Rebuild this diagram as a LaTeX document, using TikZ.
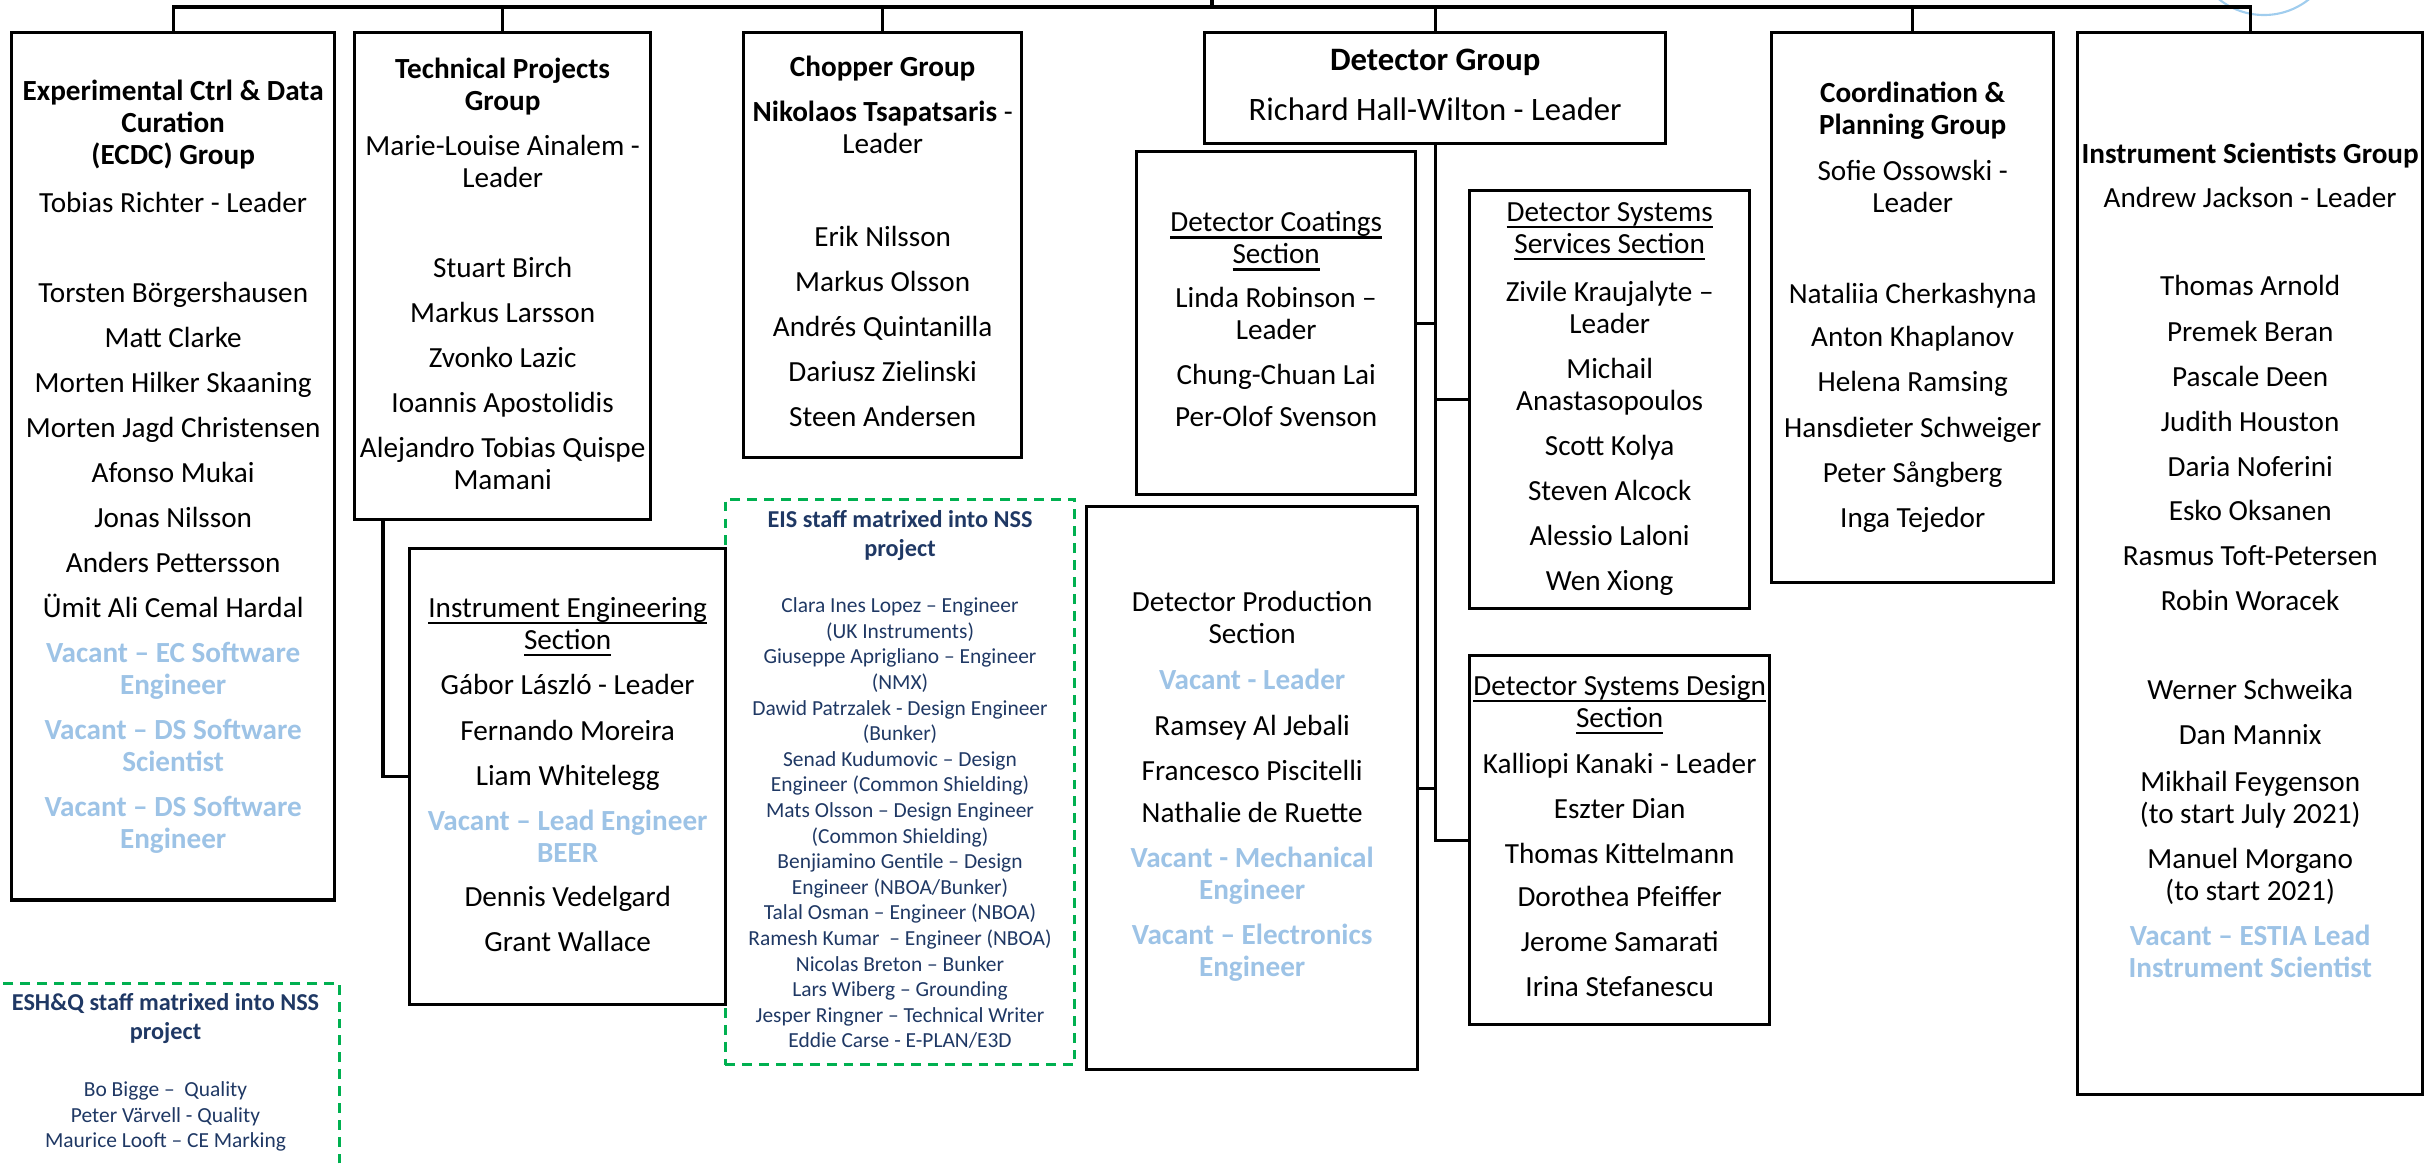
\documentclass[tikz,border=0pt]{standalone}
\usepackage{fontspec}
\setmainfont{Carlito}
\usepackage{xcolor}
\usepackage{tikz}
\usetikzlibrary{calc}
\definecolor{vacant}{RGB}{157,195,230}
\definecolor{navy}{RGB}{31,56,100}
\definecolor{matgreen}{RGB}{0,176,80}
\definecolor{logo}{RGB}{160,205,238}
\newcommand{\vac}[1]{\textcolor{vacant}{\bfseries #1}}
\newsavebox{\secbox}
\newcommand{\secname}[1]{\sbox{\secbox}{#1}\rlap{\rule[-0.7mm]{\wd\secbox}{0.25mm}}\usebox{\secbox}}

\begin{document}
\begin{tikzpicture}[x=0.01cm,y=-0.01cm,
groupbox/.style={draw,line width=0.9pt,inner sep=0pt,anchor=north west},
matbox/.style={draw=matgreen,line width=0.8pt,dash pattern=on 2.8pt off 2pt,inner sep=0pt,anchor=north west},
staff/.style={align=center,anchor=north,inner sep=0pt,execute at begin node=\strut,font=\fontsize{8.3}{9.1}\selectfont},
mattitle/.style={staff,text=navy,font=\fontsize{6.9}{8.2}\selectfont\bfseries},
matlist/.style={staff,text=navy,font=\fontsize{6.1}{7.28}\selectfont},
link/.style={line width=0.9pt}]
\path[use as bounding box,clip](0,0)rectangle(2432,1168);
\draw[logo,line width=0.6pt](2264,-57)circle[radius=0.72cm];

% matrixed staff
\node[matbox,minimum width=3.49cm,minimum height=5.65cm](eis)at(724,498){};
\node[matbox,minimum width=3.48cm,minimum height=2.2cm](esh)at(-10,982){};

% groups and sections
\node[groupbox,minimum width=3.23cm,minimum height=8.67cm](ecdc)at(10,31){};
\node[groupbox,minimum width=2.96cm,minimum height=4.87cm](tp)at(353,31){};
\node[groupbox,minimum width=2.78cm,minimum height=4.25cm](chop)at(742,31){};
\node[groupbox,minimum width=4.61cm,minimum height=1.11cm](det)at(1203,31){};
\node[groupbox,minimum width=2.82cm,minimum height=5.5cm](coord)at(1770,31){};
\node[groupbox,minimum width=3.45cm,minimum height=10.61cm](inst)at(2076,31){};
\node[groupbox,minimum width=3.16cm,minimum height=4.56cm](ieng)at(408,547){};
\node[groupbox,minimum width=2.79cm,minimum height=3.43cm](coat)at(1135,150){};
\node[groupbox,minimum width=2.8cm,minimum height=4.18cm](serv)at(1468,189){};
\node[groupbox,minimum width=3.31cm,minimum height=5.63cm](prod)at(1085,505){};
\node[groupbox,minimum width=3cm,minimum height=3.69cm](dsd)at(1468,654){};

% connectors
\coordinate(top)at(1212,-5);
\coordinate(bus)at(1212,7);
\draw[link](top)--(bus);
\foreach \g in {ecdc,tp,chop,det,coord,inst}
  \draw[link](\g.north)|-(bus);
\draw[link](tp.south west)++(30,0)|-(ieng.west);
\draw[link](det.south)|-(dsd.west);
\draw[link](coat.east)--(coat.east-|det.south);
\draw[link](serv.west)--(serv.west-|det.south);
\draw[link](prod.east)--(prod.east-|det.south);

% texts
\node[staff](ecdc-names)at([yshift=-0.486cm]ecdc.north){\textbf{Experimental Ctrl \& Data}\\
\textbf{Curation}\\
\textbf{(ECDC) Group}\\[1.6mm]
Tobias Richter - Leader\\[5.8mm]
Torsten Börgershausen\\[1.3mm]
Matt Clarke\\[1.3mm]
Morten Hilker Skaaning\\[1.3mm]
Morten Jagd Christensen\\[1.3mm]
Afonso Mukai\\[1.3mm]
Jonas Nilsson\\[1.3mm]
Anders Pettersson\\[1.3mm]
Ümit Ali Cemal Hardal\\[1.3mm]
\vac{Vacant – EC Software}\\
\vac{Engineer}\\[1.3mm]
\vac{Vacant – DS Software}\\
\vac{Scientist}\\[1.3mm]
\vac{Vacant – DS Software}\\
\vac{Engineer}};
\node[staff](tp-names)at([yshift=-0.266cm]tp.north){\textbf{Technical Projects}\\
\textbf{Group}\\[1.3mm]
Marie-Louise Ainalem -\\
Leader\\[5.8mm]
Stuart Birch\\[1.3mm]
Markus Larsson\\[1.3mm]
Zvonko Lazic\\[1.3mm]
Ioannis Apostolidis\\[1.3mm]
Alejandro Tobias Quispe\\
Mamani};
\node[staff](chop-names)at([yshift=-0.246cm]chop.north){\textbf{Chopper Group}\\[1.3mm]
\textbf{Nikolaos Tsapatsaris} -\\
Leader\\[6.1mm]
Erik Nilsson\\[1.3mm]
Markus Olsson\\[1.3mm]
Andrés Quintanilla\\[1.3mm]
Dariusz Zielinski\\[1.3mm]
Steen Andersen};
\node[staff,font=\fontsize{9.3}{10.3}\selectfont](det-names)at([yshift=-0.177cm]det.north){\textbf{Detector Group}\\[1.3mm]
Richard Hall-Wilton - Leader};
\node[staff](coat-names)at([yshift=-0.606cm]coat.north){\secname{Detector Coatings}\\
\secname{Section}\\[1.2mm]
Linda Robinson –\\
Leader\\[1.3mm]
Chung-Chuan Lai\\[1mm]
Per-Olof Svenson};
\node[staff](serv-names)at([yshift=-0.126cm]serv.north){\secname{Detector Systems}\\
\secname{Services Section}\\[1.6mm]
Zivile Kraujalyte –\\
Leader\\[1.3mm]
Michail\\
Anastasopoulos\\[1.3mm]
Scott Kolya\\[1.3mm]
Steven Alcock\\[1.3mm]
Alessio Laloni\\[1.3mm]
Wen Xiong};
\node[staff](dsd-names)at([yshift=-0.206cm]dsd.north){\secname{Detector Systems Design}\\
\secname{Section}\\[1.4mm]
Kalliopi Kanaki - Leader\\[1.3mm]
Eszter Dian\\[1.3mm]
Thomas Kittelmann\\[1.1mm]
Dorothea Pfeiffer\\[1.3mm]
Jerome Samarati\\[1.3mm]
Irina Stefanescu};
\node[staff](prod-names)at([yshift=-0.856cm]prod.north){Detector Production\\
Section\\[1.4mm]
\vac{Vacant - Leader}\\[1.4mm]
Ramsey Al Jebali\\[1.3mm]
Francesco Piscitelli\\[1mm]
Nathalie de Ruette\\[1.3mm]
\vac{Vacant - Mechanical}\\
\vac{Engineer}\\[1.3mm]
\vac{Vacant – Electronics}\\
\vac{Engineer}};
\node[staff](ieng-names)at([yshift=-0.496cm]ieng.north){\secname{Instrument Engineering}\\
\secname{Section}\\[1.3mm]
Gábor László - Leader\\[1.4mm]
Fernando Moreira\\[1.3mm]
Liam Whitelegg\\[1.3mm]
\vac{Vacant – Lead Engineer}\\
\vac{BEER}\\[1.2mm]
Dennis Vedelgard\\[1.3mm]
Grant Wallace};
\node[staff](coord-names)at([yshift=-0.506cm]coord.north){\textbf{Coordination \&}\\
\textbf{Planning Group}\\[1.4mm]
Sofie Ossowski -\\
Leader\\[5.9mm]
Nataliia Cherkashyna\\[1.1mm]
Anton Khaplanov\\[1.3mm]
Helena Ramsing\\[1.4mm]
Hansdieter Schweiger\\[1.3mm]
Peter Sångberg\\[1.3mm]
Inga Tejedor};
\node[staff](inst-names)at([yshift=-1.116cm]inst.north){\textbf{Instrument Scientists Group}\\[1.2mm]
Andrew Jackson - Leader\\[5.6mm]
Thomas Arnold\\[1.4mm]
Premek Beran\\[1.3mm]
Pascale Deen\\[1.3mm]
Judith Houston\\[1.3mm]
Daria Noferini\\[1.2mm]
Esko Oksanen\\[1.3mm]
Rasmus Toft-Petersen\\[1.3mm]
Robin Woracek\\[5.6mm]
Werner Schweika\\[1.3mm]
Dan Mannix\\[1.5mm]
Mikhail Feygenson\\
(to start July 2021)\\[1.3mm]
Manuel Morgano\\
(to start 2021)\\[1.3mm]
\vac{Vacant – ESTIA Lead}\\
\vac{Instrument Scientist}};
\node[mattitle](eis-title)at([yshift=-0.118cm]eis.north){EIS staff matrixed into NSS\\
project};
\node[matlist](eis-names)at([yshift=-0.991cm]eis.north){Clara Ines Lopez – Engineer\\
(UK Instruments)\\
Giuseppe Aprigliano – Engineer\\
(NMX)\\
Dawid Patrzalek - Design Engineer\\
(Bunker)\\
Senad Kudumovic – Design\\
Engineer (Common Shielding)\\
Mats Olsson – Design Engineer\\
(Common Shielding)\\
Benjiamino Gentile – Design\\
Engineer (NBOA/Bunker)\\
Talal Osman – Engineer (NBOA)\\
Ramesh Kumar\ \ – Engineer (NBOA)\\
Nicolas Breton – Bunker\\
Lars Wiberg – Grounding\\
Jesper Ringner – Technical Writer\\
Eddie Carse - E-PLAN/E3D};
\node[mattitle](esh-title)at([yshift=-0.108cm]esh.north){ESH\&Q staff matrixed into NSS\\
project};
\node[matlist](esh-names)at([yshift=-0.991cm]esh.north){Bo Bigge –\ \ Quality\\
Peter Värvell - Quality\\
Maurice Looft – CE Marking};
\end{tikzpicture}
\end{document}
